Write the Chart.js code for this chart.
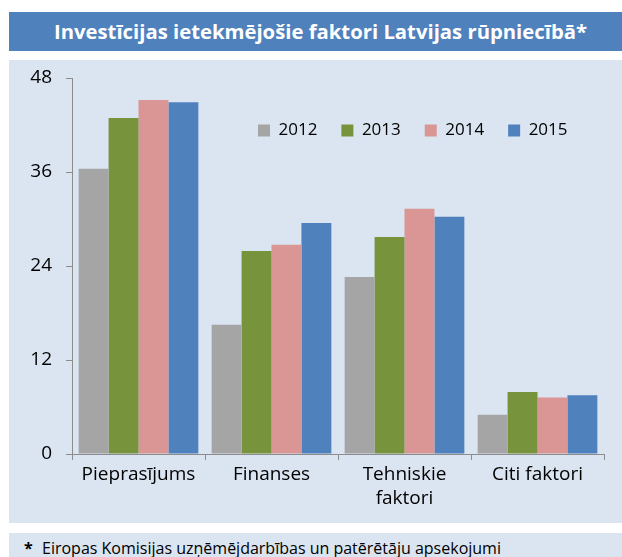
<!DOCTYPE html>
<html>
<head>
<meta charset="utf-8">
<script src="https://cdn.jsdelivr.net/npm/chart.js@4"></script>
<style>
  html, body { margin: 0; padding: 0; background: #ffffff; }
  body { width: 622px; height: 557px; position: relative; overflow: hidden; font-family: "Open Sans", sans-serif; }
  #title { position: absolute; left: 9px; top: 12px; width: 613px; height: 39px; background: #4F81BD; color: #ffffff;
           font-weight: bold; font-size: 20.3px; line-height: 39px; text-align: center; box-sizing: border-box; padding-left: 10px; white-space: nowrap; }
  #panel { position: absolute; left: 9px; top: 60px; width: 613px; height: 463px; background: #DBE5F1; }
  #panel canvas { display: block; }
  #foot { position: absolute; left: 9px; top: 533px; width: 613px; height: 24px; background: #DBE5F1; color: #000;
          font-size: 16px; line-height: 30px; white-space: nowrap; }
  #foot b { display: inline-block; margin-left: 15px; width: 18px; }
</style>
</head>
<body>
<div id="title">Investīcijas ietekmējošie faktori Latvijas rūpniecībā*</div>
<div id="panel"><canvas id="c" width="613" height="463"></canvas></div>
<div id="foot"><b>*</b>Eiropas Komisijas uzņēmējdarbības un patērētāju apsekojumi</div>
<script>
const categories = ['Pieprasījums', 'Finanses', ['Tehniskie', 'faktori'], 'Citi faktori'];
const seriesNames = ['2012', '2013', '2014', '2015'];
const v2012 = [36.4, 16.5, 22.6, 5.0];
const v2013 = [42.9, 25.9, 27.7, 7.9];
const v2014 = [45.2, 26.7, 31.3, 7.2];
const v2015 = [44.9, 29.5, 30.3, 7.5];
const yTicks = [0, 12, 24, 36, 48];
const colors = ['#A5A5A5', '#77933C', '#D99694', '#4F81BD'];

const values = [v2012, v2013, v2014, v2015];
const axisColor = '#8C8C8C';
const fontFamily = '"Open Sans", sans-serif';

const legendPlace = {
  id: 'legendPlace',
  beforeDraw(chart) {
    const lg = chart.legend;
    if (!lg) return;
    const pad = lg.options.labels.padding;
    lg.left = 249 - pad;
    lg.top = 62 - pad;
    lg.right = 613;
    lg.bottom = lg.top + 50;
    lg.width = lg.right - lg.left;
    lg.height = 50;
  }
};

const chart = new Chart(document.getElementById('c'), {
  type: 'bar',
  data: {
    labels: categories,
    datasets: seriesNames.map((n, i) => ({
      label: n,
      data: values[i],
      backgroundColor: colors[i],
      borderWidth: 0,
      categoryPercentage: 0.9,
      barPercentage: 1.0
    }))
  },
  options: {
    responsive: false,
    animation: false,
    layout: { padding: { top: 18, right: 18, left: 0, bottom: 0 } },
    plugins: {
      title: { display: false },
      tooltip: { enabled: false },
      legend: {
        display: true,
        position: 'top',
        align: 'start',
        labels: {
          boxWidth: 12,
          boxHeight: 12,
          padding: 24,
          color: '#000000',
          font: { family: fontFamily, size: 17 }
        }
      }
    },
    scales: {
      x: {
        grid: { drawOnChartArea: false, drawTicks: true, tickLength: 6, color: axisColor, offset: true },
        border: { display: true, color: axisColor, width: 1 },
        ticks: { color: '#000000', padding: 2, font: { family: fontFamily, size: 19, lineHeight: 1.3 }, maxRotation: 0, autoSkip: false },
        afterFit(s) { s.height = 69; s.paddingLeft = 0; s.paddingRight = 0; }
      },
      y: {
        min: 0,
        max: 48,
        afterBuildTicks(s) { s.ticks = yTicks.map(v => ({ value: v })); },
        grid: { drawOnChartArea: false, drawTicks: true, tickLength: 6, color: axisColor },
        border: { display: true, color: axisColor, width: 1 },
        ticks: { color: '#000000', padding: 14, font: { family: fontFamily, size: 19 } },
        afterFit(s) { s.width = 63; s.paddingTop = 0; s.paddingBottom = 0; }
      }
    }
  },
  plugins: [legendPlace]
});

const lg = chart.legend;
const origFit = lg.fit;
lg.fit = function () { origFit.call(this); this.height = 0; };
chart.update();
</script>
</body>
</html>
